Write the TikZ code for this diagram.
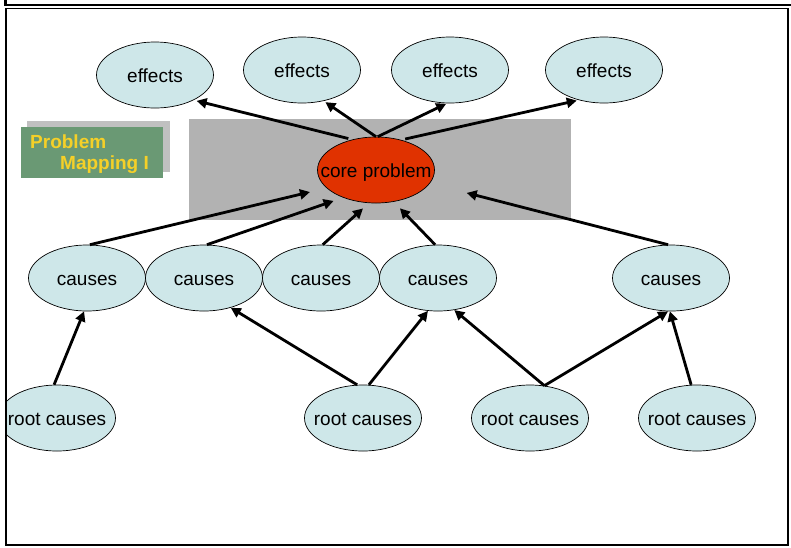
\documentclass[tikz,border=0pt]{standalone}
\usepackage{fontspec}
\setmainfont{Liberation Sans}
\usetikzlibrary{arrows.meta,shapes.geometric}
\definecolor{bubble}{RGB}{206,231,233}
\definecolor{coreRed}{RGB}{224,50,0}
\definecolor{panelGray}{RGB}{178,178,178}
\definecolor{tagGreen}{RGB}{106,153,116}
\definecolor{tagShadow}{RGB}{192,192,192}
\definecolor{tagText}{RGB}{245,208,40}
% label that does not widen its ellipse
\newcommand\bubbletext[1]{\raisebox{-7pt}[0pt][0pt]{\makebox[0pt][c]{#1}}}
\begin{document}
\begin{tikzpicture}[x=1pt,y=-1pt,
  bubble/.style={ellipse,draw=black,line width=0.7pt,fill=bubble,
    minimum width=117pt,minimum height=66pt,inner sep=0pt,
    font=\fontsize{19}{22}\selectfont},
  corenode/.style={bubble,fill=coreRed},
  arr/.style={line width=2.8pt,-{Triangle[length=10pt,width=10pt]}},
  tagtext/.style={anchor=base west,inner sep=0pt,text=tagText,
    font=\fontsize{19}{22}\selectfont\bfseries},
  frameline/.style={line width=2.5pt}]
\useasboundingbox (0,0) rectangle (791,547);
\fill[white] (0,0) rectangle (791,547);

\begin{scope}
\clip (6,9) rectangle (788,545);

% grey panel behind the core problem
\fill[panelGray] (189,119) rectangle (571,220);

% "Problem Mapping I" tag with its shadow
\fill[tagShadow] (27,121) rectangle (170,171.5);
\fill[tagGreen] (21,127) rectangle (162.5,178.3);
\node[tagtext] (tag1) at (30,148) {Problem};
\node[tagtext] (tag2) at (60,169) {Mapping I};

% effects
\node[bubble] (e1) at (155,75) {\bubbletext{effects}};
\node[bubble] (e2) at (302,70) {\bubbletext{effects}};
\node[bubble] (e3) at (450,70) {\bubbletext{effects}};
\node[bubble] (e4) at (604,70) {\bubbletext{effects}};

% core problem
\node[corenode] (core) at (376,170) {\bubbletext{core problem}};

% causes
\node[bubble] (c1) at (87,278) {\bubbletext{causes}};
\node[bubble] (c2) at (204,278) {\bubbletext{causes}};
\node[bubble] (c3) at (321,278) {\bubbletext{causes}};
\node[bubble] (c4) at (438,278) {\bubbletext{causes}};
\node[bubble] (c5) at (671,278) {\bubbletext{causes}};

% root causes
\node[bubble] (r1) at (57,418) {\bubbletext{root causes}};
\node[bubble] (r2) at (363,418) {\bubbletext{root causes}};
\node[bubble] (r3) at (530,418) {\bubbletext{root causes}};
\node[bubble] (r4) at (697,418) {\bubbletext{root causes}};

% core problem -> effects
\draw[arr,shorten <=4pt,shorten >=3pt] (core.128) -- (e1.327);
\draw[arr,shorten >=2pt] (core.north) -- (e2.305);
\draw[arr,shorten >=1pt] (core.87) -- (e3.265);
\draw[arr,shorten <=4pt,shorten >=2pt] (core.50) -- (e4.230);

% causes -> core problem
\draw[arr,shorten >=17pt] (c1.85) -- (core.200);
\draw[arr,shorten >=10pt] (c2.85) -- (core.220);
\draw[arr,shorten >=8pt] (c3.87) -- (core.258);
\draw[arr,shorten >=9pt] (c4.95) -- (core.299);
\draw[arr,shorten >=38pt] (c5.95) -- (core.346);

% root causes -> causes
\draw[arr] (r1.95) -- (c1.265);
\draw[arr] (r2.100) -- (c2.312);
\draw[arr] (r2.80) -- (c4.253);
\draw[arr] (r3.66) -- (c4.297);
\draw[arr] (r3.66) -- (c5.265);
\draw[arr] (r4.100) -- (c5.268);
\end{scope}

% page frame
\draw[frameline] (5.5,0) -- (5.5,5) -- (791,5);
\draw[line width=1.5pt] (6,8.5) -- (787,8.5);
\draw[frameline] (6,8) -- (6,545) -- (788,545) -- (788,8);
\end{tikzpicture}
\end{document}
